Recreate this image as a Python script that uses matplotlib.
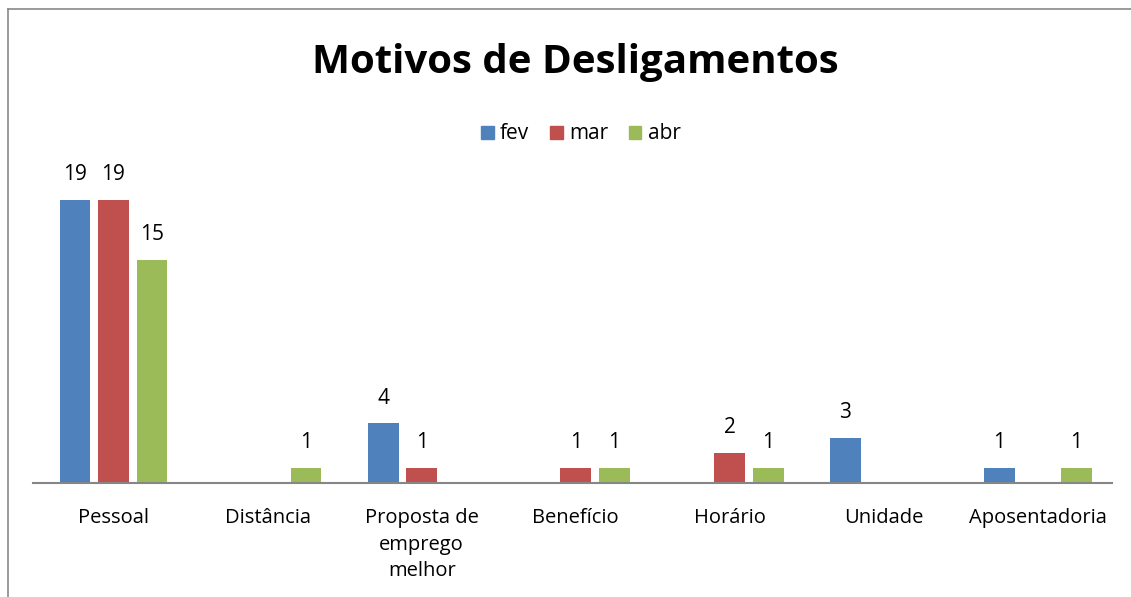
import numpy as np
import matplotlib.pyplot as plt
from matplotlib.lines import Line2D

plt.rcParams['font.family'] = ['Open Sans', 'DejaVu Sans']

categorias = ["Pessoal", "Distância", "Proposta de\nemprego\nmelhor", "Benefício",
              "Horário", "Unidade", "Aposentadoria"]
fev = [19, 0, 4, 0, 0, 3, 1]
mar = [19, 0, 1, 1, 2, 0, 0]
abr = [15, 1, 0, 1, 1, 0, 1]

series = [("fev", fev, "#4F81BD"), ("mar", mar, "#C0504D"), ("abr", abr, "#9BBB59")]

W, H = 1131, 597
fig = plt.figure(figsize=(W / 100, H / 100), dpi=100)
# plot area in pixels: x 33..1112, baseline at y=483
left, right, base, top = 33, 1112, 483, 185
ax = fig.add_axes([left / W, 1 - base / H, (right - left) / W, (base - top) / H])

x = np.arange(len(categorias))
bw = 0.2
step = 0.25
for i, (nome, vals, cor) in enumerate(series):
    pos = x + (i - 1) * step
    ax.bar(pos, vals, width=bw, color=cor, label=nome, zorder=2)
    for p, v in zip(pos, vals):
        if v > 0:
            ax.text(p, v + 1.0, str(v), ha="center", va="bottom", fontsize=15)

ax.set_xlim(-0.522, 6.48)
ax.set_ylim(0, 20)
ax.set_yticks([])
ax.set_xticks(x)
ax.set_xticklabels(categorias, fontsize=14.5, linespacing=1.45)
ax.tick_params(axis="x", length=0, pad=18)
for s in ["top", "right", "left"]:
    ax.spines[s].set_visible(False)
ax.spines["bottom"].set_color("#868686")
ax.spines["bottom"].set_linewidth(1.5)

fig.text(575 / W, 1 - 63 / H, "Motivos de Desligamentos", ha="center", va="center",
         fontsize=29, fontweight="bold")

handles = [plt.Rectangle((0, 0), 1, 1, color=c) for _, _, c in series]
fig.legend(handles, [n for n, _, _ in series], loc="center", bbox_to_anchor=(581 / W, 1 - 134 / H),
           ncol=3, frameon=False, fontsize=15, handlelength=0.6, handleheight=0.6,
           handletextpad=0.3, columnspacing=1.0)

# chart border (left and top visible)
fig.add_artist(Line2D([8 / W, 8 / W], [0, 1 - 9 / H], color="#898989", lw=1.2))
fig.add_artist(Line2D([8 / W, 1], [1 - 9 / H, 1 - 9 / H], color="#898989", lw=1.2))

fig.savefig("out.png", dpi=100)
